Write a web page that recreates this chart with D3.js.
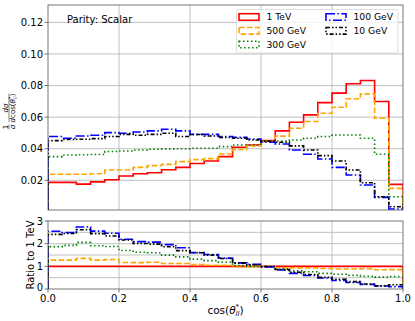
<!DOCTYPE html>
<html>
<head>
<meta charset="utf-8">
<script src="https://cdn.jsdelivr.net/npm/d3@7"></script>
<style>
  body { margin: 0; background: #fff; }
  svg { display: block; font-family: "DejaVu Sans", sans-serif; }
</style>
</head>
<body>
<div id="chart"></div>
<script>
// bin edges of cos(theta*_ll), 25 bins
const binEdges = [0.00, 0.04, 0.08, 0.12, 0.16, 0.20, 0.24, 0.28, 0.32, 0.36, 0.40, 0.44, 0.48,
                  0.52, 0.56, 0.60, 0.64, 0.68, 0.72, 0.76, 0.80, 0.84, 0.88, 0.92, 0.96, 1.00];

// normalised distributions
const tev1 = [0.0187, 0.0187, 0.0176, 0.0190, 0.0204, 0.0227, 0.0242, 0.0248, 0.0267, 0.0282, 0.0306, 0.0322, 0.0350,
              0.0409, 0.0424, 0.0451, 0.0513, 0.0568, 0.0614, 0.0692, 0.0752, 0.0811, 0.0832, 0.0699, 0.0174];
const gev500 = [0.0238, 0.0238, 0.0238, 0.0242, 0.0265, 0.0265, 0.0282, 0.0293, 0.0301, 0.0318, 0.0331, 0.0337, 0.0367,
                0.0396, 0.0418, 0.0445, 0.0480, 0.0530, 0.0572, 0.0625, 0.0663, 0.0716, 0.0747, 0.0593, 0.0149];
const gev300 = [0.0350, 0.0360, 0.0362, 0.0363, 0.0382, 0.0386, 0.0392, 0.0397, 0.0399, 0.0400, 0.0403, 0.0403, 0.0413,
                0.0424, 0.0424, 0.0449, 0.0449, 0.0455, 0.0466, 0.0477, 0.0487, 0.0487, 0.0466, 0.0365, 0.0096];
const gev100 = [0.0477, 0.0466, 0.0481, 0.0485, 0.0502, 0.0498, 0.0506, 0.0513, 0.0523, 0.0513, 0.0491, 0.0491, 0.0477,
                0.0472, 0.0462, 0.0441, 0.0430, 0.0392, 0.0365, 0.0335, 0.0282, 0.0234, 0.0170, 0.0092, 0.0018];
const gev10 = [0.0451, 0.0458, 0.0460, 0.0464, 0.0477, 0.0491, 0.0485, 0.0491, 0.0498, 0.0477, 0.0490, 0.0481, 0.0471,
               0.0466, 0.0455, 0.0447, 0.0441, 0.0418, 0.0392, 0.0356, 0.0322, 0.0265, 0.0185, 0.0096, 0.0033];

const seriesNames = ['1 TeV', '500 GeV', '300 GeV', '100 GeV', '10 GeV'];
const seriesValues = [tev1, gev500, gev300, gev100, gev10];

const xTicks = [0, 0.2, 0.4, 0.6, 0.8, 1.0];
const yTopTicks = [0.02, 0.04, 0.06, 0.08, 0.10, 0.12];
const yBotTicks = [0, 1, 2, 3];
const yBotGrid = [0.5, 1, 1.5, 2, 2.5];

// styles
const styles = [
    { color: 'red', dash: null },
    { color: 'orange', dash: '5.5,2.4' },
    { color: 'green', dash: '1.5,2.5' },
    { color: 'blue', dash: '9,2.4,1.5,2.4' },
    { color: 'black', dash: '4,2,1.5,2,1.5,2' }
];

const width = 415, height = 321;
const left = 48, right = 403;
const top1 = 5, bot1 = 210, top2 = 221, bot2 = 289;
const frameColor = '#555';
const gridColor = '#b0b0b0';

const svg = d3.select('#chart').append('svg')
    .attr('width', width)
    .attr('height', height);

const x = d3.scaleLinear().domain([0, 1]).range([left, right]);
const yTop = d3.scaleLinear().domain([0.0012, 0.131]).range([bot1, top1]);
const yBot = d3.scaleLinear().domain([0, 3]).range([bot2, top2]);

// clip paths
const defs = svg.append('defs');
defs.append('clipPath').attr('id', 'clipTop').append('rect')
    .attr('x', left).attr('y', top1).attr('width', right - left).attr('height', bot1 - top1);
defs.append('clipPath').attr('id', 'clipBot').append('rect')
    .attr('x', left).attr('y', top2).attr('width', right - left).attr('height', bot2 - top2);

// step outline like histtype='step'
function stepPoints(vals) {
    const pts = [[0, 0]];
    vals.forEach((v, i) => pts.push([binEdges[i], v]));
    pts.push([1, vals[vals.length - 1]]);
    pts.push([1, 0]);
    return pts;
}

function drawGrid(yScale, yGrid, y0, y1) {
    const g = svg.append('g');
    g.selectAll('line.gx').data(xTicks.filter(t => t > 0 && t < 1)).enter().append('line')
        .attr('x1', d => x(d)).attr('x2', d => x(d))
        .attr('y1', y0).attr('y2', y1)
        .attr('stroke', gridColor).attr('stroke-width', 0.8);
    g.selectAll('line.gy').data(yGrid).enter().append('line')
        .attr('x1', left).attr('x2', right)
        .attr('y1', d => yScale(d)).attr('y2', d => yScale(d))
        .attr('stroke', gridColor).attr('stroke-width', 0.8);
}

drawGrid(yTop, yTopTicks, top1, bot1);
drawGrid(yBot, yBotGrid, top2, bot2);

// top panel histograms
const lineTop = d3.line().x(d => x(d[0])).y(d => yTop(d[1])).curve(d3.curveStepAfter);
const gTop = svg.append('g').attr('clip-path', 'url(#clipTop)');
seriesValues.forEach((vals, i) => {
    gTop.append('path')
        .attr('d', lineTop(stepPoints(vals)))
        .attr('fill', 'none')
        .attr('stroke', styles[i].color)
        .attr('stroke-width', 1.6)
        .attr('stroke-dasharray', styles[i].dash);
});

// ratio panel
const lineBot = d3.line().x(d => x(d[0])).y(d => yBot(d[1])).curve(d3.curveStepAfter);
const gBot = svg.append('g').attr('clip-path', 'url(#clipBot)');
seriesValues.forEach((vals, i) => {
    const ratio = vals.map((v, j) => v / tev1[j]);
    gBot.append('path')
        .attr('d', lineBot(stepPoints(ratio)))
        .attr('fill', 'none')
        .attr('stroke', styles[i].color)
        .attr('stroke-width', 1.6)
        .attr('stroke-dasharray', styles[i].dash);
});

// frames
[[top1, bot1], [top2, bot2]].forEach(([a, b]) => {
    svg.append('rect')
        .attr('x', left).attr('y', a)
        .attr('width', right - left).attr('height', b - a)
        .attr('fill', 'none').attr('stroke', frameColor).attr('stroke-width', 0.8);
});

// y ticks, top panel
const tickG = svg.append('g');
yTopTicks.forEach(t => {
    tickG.append('line')
        .attr('x1', left - 3.5).attr('x2', left)
        .attr('y1', yTop(t)).attr('y2', yTop(t))
        .attr('stroke', frameColor).attr('stroke-width', 0.8);
    tickG.append('text')
        .attr('x', left - 5).attr('y', yTop(t) + 3.6)
        .attr('text-anchor', 'end').attr('font-size', 10)
        .text(t.toFixed(2));
});

// y ticks, ratio panel
yBotTicks.forEach(t => {
    tickG.append('line')
        .attr('x1', left - 3.5).attr('x2', left)
        .attr('y1', yBot(t)).attr('y2', yBot(t))
        .attr('stroke', frameColor).attr('stroke-width', 0.8);
    tickG.append('text')
        .attr('x', left - 5).attr('y', yBot(t) + (t === 0 ? 2.4 : 3.6))
        .attr('text-anchor', 'end').attr('font-size', 10)
        .text(t);
});

// x ticks, ratio panel
xTicks.forEach(t => {
    tickG.append('line')
        .attr('x1', x(t)).attr('x2', x(t))
        .attr('y1', bot2).attr('y2', bot2 + 3.5)
        .attr('stroke', frameColor).attr('stroke-width', 0.8);
    tickG.append('text')
        .attr('x', x(t)).attr('y', bot2 + 12.6)
        .attr('text-anchor', 'middle').attr('font-size', 10)
        .text(t.toFixed(1));
});

// x label cos(theta*_ll)
const xl = svg.append('text')
    .attr('x', (left + right) / 2).attr('y', 313.5)
    .attr('text-anchor', 'middle').attr('font-size', 10.5);
xl.append('tspan').text('cos(');
xl.append('tspan').attr('font-style', 'italic').text('θ');
xl.append('tspan').attr('font-size', 7).attr('dy', -4.5).text('*');
xl.append('tspan').attr('font-size', 7).attr('font-style', 'italic').attr('dx', -3.5).attr('dy', 7).text('ll');
xl.append('tspan').attr('dy', -2.5).text(')');

// ratio y label
svg.append('text')
    .attr('transform', `translate(34,${(top2 + bot2) / 2}) rotate(-90)`)
    .attr('text-anchor', 'middle').attr('font-size', 10)
    .text('Ratio to 1 TeV');

// top y label: 1/sigma dsigma/dcos(theta*_ll)
const yl = svg.append('g').attr('transform', 'translate(9,112) rotate(-90)');
yl.append('text').attr('x', -15).attr('y', -1.5).attr('text-anchor', 'middle')
    .attr('font-size', 7).text('1');
yl.append('line').attr('x1', -17.5).attr('x2', -12.5).attr('y1', 0).attr('y2', 0)
    .attr('stroke', '#000').attr('stroke-width', 0.5);
yl.append('text').attr('x', -15).attr('y', 5.8).attr('text-anchor', 'middle')
    .attr('font-size', 7).attr('font-style', 'italic').text('σ');
yl.append('text').attr('x', 4).attr('y', -1.5).attr('text-anchor', 'middle')
    .attr('font-size', 7).attr('font-style', 'italic').text('dσ');
yl.append('line').attr('x1', -10).attr('x2', 18.5).attr('y1', 0).attr('y2', 0)
    .attr('stroke', '#000').attr('stroke-width', 0.5);
const den = yl.append('text').attr('x', 4).attr('y', 5.8).attr('text-anchor', 'middle')
    .attr('font-size', 7);
den.append('tspan').attr('font-style', 'italic').text('d');
den.append('tspan').text('cos(');
den.append('tspan').attr('font-style', 'italic').text('θ');
den.append('tspan').attr('font-size', 5).attr('dy', -3).text('*');
den.append('tspan').attr('font-size', 5).attr('font-style', 'italic').attr('dx', -2.5).attr('dy', 5).text('ll');
den.append('tspan').attr('dy', -2).text(')');

// annotation
svg.append('text')
    .attr('x', 67).attr('y', 22.5)
    .attr('font-size', 10)
    .text('Parity: Scalar');

// legend
const legend = svg.append('g');
legend.append('rect')
    .attr('x', 236.5).attr('y', 9.5).attr('width', 161.5).attr('height', 43.5)
    .attr('rx', 2).attr('fill', 'rgba(255,255,255,0.8)')
    .attr('stroke', '#d6d6d6').attr('stroke-width', 0.8);
const legendPos = [
    { hx: 239, tx: 266.5, cy: 17 },
    { hx: 239, tx: 266.5, cy: 30.8 },
    { hx: 239, tx: 266.5, cy: 44.5 },
    { hx: 326, tx: 353.5, cy: 17 },
    { hx: 326, tx: 353.5, cy: 30.8 }
];
seriesNames.forEach((name, i) => {
    const p = legendPos[i];
    legend.append('rect')
        .attr('x', p.hx).attr('y', p.cy - 3.3)
        .attr('width', 20).attr('height', 6.6)
        .attr('fill', 'none')
        .attr('stroke', styles[i].color)
        .attr('stroke-width', 1.6)
        .attr('stroke-dasharray', styles[i].dash);
    legend.append('text')
        .attr('x', p.tx).attr('y', p.cy + 3.4)
        .attr('font-size', 9.2)
        .text(name);
});
</script>
</body>
</html>
